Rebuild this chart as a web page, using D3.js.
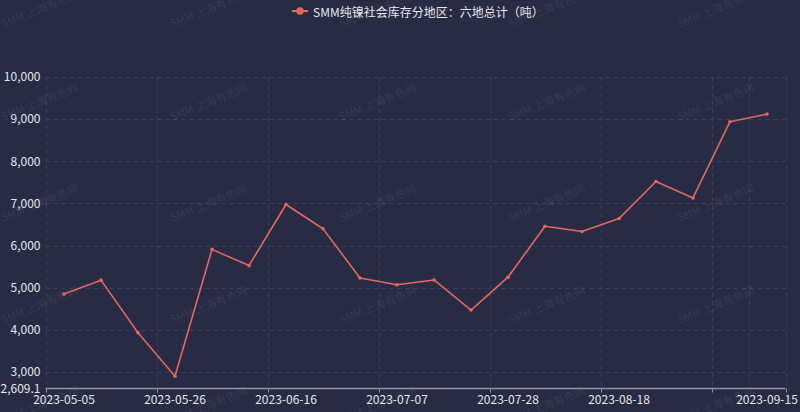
<!DOCTYPE html>
<html>
<head>
<meta charset="utf-8">
<script src="https://cdn.jsdelivr.net/npm/d3@7/dist/d3.min.js"></script>
<style>
  html, body { margin: 0; padding: 0; background: #272b43; }
  svg { display: block; }
</style>
</head>
<body>
<svg id="chart" width="800" height="412"></svg>
<script>
// ---- data ----
const dates = ["2023-05-05","2023-05-12","2023-05-19","2023-05-26","2023-06-02","2023-06-09",
  "2023-06-16","2023-06-23","2023-06-30","2023-07-07","2023-07-14","2023-07-21","2023-07-28",
  "2023-08-04","2023-08-11","2023-08-18","2023-08-25","2023-09-01","2023-09-08","2023-09-15"];
const values = [4850, 5180, 3930, 2899, 5910, 5525, 6975, 6400, 5230, 5070,
  5185, 4470, 5250, 6460, 6335, 6640, 7520, 7130, 8940, 9120];
const seriesName = "SMM纯镍社会库存分地区：六地总计（吨）";
const yTicks = [2609.1, 3000, 4000, 5000, 6000, 7000, 8000, 9000, 10000];
const xLabels = ["2023-05-05","2023-05-26","2023-06-16","2023-07-07","2023-07-28","2023-08-18","2023-09-15"];
const yMin = 2609.1, yMax = 10000;

(function () {
// ---- layout ----
const W = 800, H = 412;
const pL = 45.5, pR = 785.5, pT = 77, pB = 388.5;
const lineColor = "#e3685d";
const textColor = "#e6e7ec";
const gridColor = "#3a4062";
const font = "'Noto Sans CJK SC', 'Noto Sans', sans-serif";

const svg = d3.select("#chart");
svg.append("rect").attr("width", W).attr("height", H).attr("fill", "#272b43");

const x = d3.scaleBand().domain(dates).range([pL, pR]).padding(0);
const bw = x.bandwidth();
const y = d3.scaleLinear().domain([yMin, yMax]).range([pB, pT]);

// horizontal grid
const g = svg.append("g");
g.selectAll("line").data(yTicks.filter(v => v !== yMin)).join("line")
  .attr("x1", pL).attr("x2", pR)
  .attr("y1", d => Math.round(y(d)) + 0.5).attr("y2", d => Math.round(y(d)) + 0.5)
  .attr("stroke", gridColor).attr("stroke-width", 1).attr("stroke-dasharray", "4,4");

// vertical grid at band boundaries
const vIdx = [0, 3, 6, 9, 12, 15, 18, 19, 20];
const bx = i => i < dates.length ? x(dates[i]) : x(dates[dates.length - 1]) + bw;
const g2 = svg.append("g");
g2.selectAll("line").data(vIdx).join("line")
  .attr("x1", i => Math.round(bx(i)) + 0.5).attr("x2", i => Math.round(bx(i)) + 0.5)
  .attr("y1", pT).attr("y2", pB)
  .attr("stroke", gridColor).attr("stroke-width", 1).attr("stroke-dasharray", "4,4");

// watermarks
const wm = svg.append("g");
const wmX = [40, 209, 378, 547, 716], wmY = [10, 103, 204, 306, 406];
wmY.forEach(yy => wmX.forEach(xx => {
  wm.append("text").attr("transform", `translate(${xx},${yy}) rotate(-22)`)
    .attr("text-anchor", "middle").attr("dominant-baseline", "middle")
    .attr("font-family", font).attr("font-size", 11)
    .attr("fill", "rgba(255,255,255,0.09)").text("SMM 上海有色网");
}));

// x axis line
svg.append("line").attr("x1", pL).attr("x2", pR)
  .attr("y1", pB).attr("y2", pB)
  .attr("stroke", "#8e92a6").attr("stroke-width", 1.5);
// x tick marks
const tIdx = [0, 3, 6, 9, 12, 15, 18, 20];
const g3 = svg.append("g");
g3.selectAll("line").data(tIdx).join("line")
  .attr("x1", i => Math.round(bx(i)) + 0.5).attr("x2", i => Math.round(bx(i)) + 0.5)
  .attr("y1", pB).attr("y2", pB + 4)
  .attr("stroke", "#8e92a6").attr("stroke-width", 1);

// x labels
const xAxis = d3.axisBottom(x).tickValues(xLabels).tickSize(0).tickPadding(7);
const xg = svg.append("g").attr("transform", `translate(0,${pB})`).call(xAxis);
xg.select(".domain").remove();
xg.selectAll("text").attr("fill", textColor).attr("font-size", 12).attr("font-family", font);

// y labels
const yAxis = d3.axisLeft(y).tickValues(yTicks).tickFormat(d3.format(",")).tickSize(0).tickPadding(5);
const yg = svg.append("g").attr("transform", `translate(${pL},0)`).call(yAxis);
yg.select(".domain").remove();
yg.selectAll("text").attr("fill", textColor).attr("font-size", 12).attr("font-family", font);

// line
const cx = d => x(d) + bw / 2;
const line = d3.line().x((d, i) => cx(dates[i])).y(d => y(d));
svg.append("path").datum(values).attr("d", line)
  .attr("fill", "none").attr("stroke", lineColor).attr("stroke-width", 1.6)
  .attr("stroke-linejoin", "round");
svg.append("g").selectAll("circle").data(values).join("circle")
  .attr("cx", (d, i) => cx(dates[i])).attr("cy", d => y(d)).attr("r", 1.8)
  .attr("fill", lineColor);

// legend
const lg = svg.append("g").attr("transform", "translate(292,11)");
lg.append("line").attr("x1", 0).attr("x2", 16).attr("y1", 0).attr("y2", 0)
  .attr("stroke", lineColor).attr("stroke-width", 2);
lg.append("circle").attr("cx", 8).attr("cy", 0).attr("r", 3.8).attr("fill", lineColor);
lg.append("text").attr("x", 21).attr("y", 0).attr("dominant-baseline", "central")
  .attr("font-family", font).attr("font-size", 12).attr("fill", textColor).text(seriesName);
})();
</script>
</body>
</html>
